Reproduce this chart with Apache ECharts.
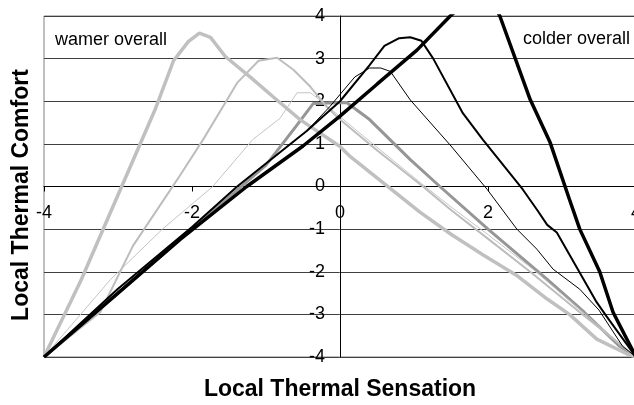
<!DOCTYPE html>
<html>
<head>
<meta charset="utf-8">
<script src="https://cdn.jsdelivr.net/npm/echarts@6/dist/echarts.min.js"></script>
<style>
html,body{margin:0;padding:0;background:#fff;}
#chart{width:634px;height:405px;}
</style>
</head>
<body>
<div id="chart"></div>
<script>
// Local thermal sensation (x) vs local thermal comfort (y)
const xTicks = [-4, -2, 0, 2, 4];
const yTicks = [-4, -3, -2, -1, 0, 1, 2, 3, 4];

// warmer-overall curves (grey)
const warmThick = [[-4,-4],[-3.5,-2.2],[-3.0,-0.2],[-2.5,1.8],[-2.25,2.95],[-2.05,3.4],[-1.9,3.6],[-1.75,3.5],[-1.55,3.05],[-1.2,2.55],[-0.9,2.1],[-0.54,1.57],[0,0.94],[0.14,0.7],[0.5,0.2],[1.08,-0.6],[1.5,-1.12],[1.93,-1.6],[2.4,-2.1],[2.8,-2.64],[3.1,-3.0],[3.47,-3.58],[3.88,-3.93],[4,-4]];
const warmMedium = [[-4,-4],[-3.24,-2.95],[-2.8,-1.4],[-2.2,0.16],[-1.85,1.1],[-1.39,2.43],[-1.1,2.95],[-0.85,3.02],[-0.63,2.74],[-0.4,2.34],[-0.18,1.87],[0,1.57],[0.5,0.85],[1.12,0.0],[1.5,-0.55],[1.98,-1.2],[2.57,-2.0],[3.24,-2.95],[3.6,-3.45],[4,-4]];
const warmThin = [[-4,-4],[-3.1,-2.18],[-2.4,-1.0],[-1.72,0],[-1.18,1.1],[-0.81,1.6],[-0.58,2.2],[-0.4,2.2],[-0.23,1.97],[0.2,1.35],[0.5,0.92],[1.1,0.07],[1.5,-0.48],[2,-1.13],[2.6,-1.93],[3.25,-2.9],[4,-4]];
const neutral = [[-4,-4],[-3,-2.5],[-2,-1.0],[-1,0.5],[-0.6,1.4],[-0.36,1.95],[0.09,1.97],[0.4,1.57],[0.95,0.63],[1.35,0],[2,-1.0],[2.8,-2.18],[3.3,-2.95],[3.78,-3.75],[4,-4]];

// colder-overall curves (black)
const coldThin = [[-4,-4],[-3,-2.4],[-2,-0.95],[-1.39,0],[-0.45,1.3],[-0.14,1.87],[0.2,2.57],[0.4,2.78],[0.55,2.78],[0.68,2.7],[0.95,2.03],[1.5,0.95],[1.99,-0.07],[2.39,-1.0],[2.66,-1.47],[2.88,-1.94],[3.24,-2.41],[3.5,-2.9],[3.82,-3.75],[4,-4]];
const coldMedium = [[-4,-4],[-3,-2.4],[-2,-0.95],[-1.39,0],[-0.45,1.3],[0,2.0],[0.4,2.85],[0.6,3.3],[0.8,3.48],[0.95,3.5],[1.1,3.42],[1.26,3.0],[1.66,1.72],[1.93,1.1],[2.47,-0.07],[2.66,-0.54],[2.8,-0.9],[2.93,-1.08],[3.2,-1.9],[3.47,-2.72],[3.6,-3.04],[4,-4]];
const coldThick = [[-4,-4],[-3,-2.5],[-2.16,-1.24],[-1.26,0],[-0.5,0.95],[0,1.65],[0.5,2.4],[1.04,3.2],[1.49,4.0],[1.95,4.7],[2.16,4.0],[2.57,2.04],[2.84,1.03],[3.1,-0.3],[3.24,-1.0],[3.51,-2.0],[3.69,-2.95],[4,-4]];

const FONT = '"Liberation Sans", Arial, sans-serif';
const GRID = { left: 44, top: 16, width: 592, height: 341 };

function line(data, color, width, z) {
  return {
    type: 'line', data: data, showSymbol: false, symbol: 'none',
    lineStyle: { color: color, width: width }, z: z, clip: true,
    animation: false, emphasis: { disabled: true }
  };
}

const chart = echarts.init(document.getElementById('chart'), null, { renderer: 'canvas' });
chart.setOption({
  animation: false,
  backgroundColor: '#fff',
  grid: Object.assign({ show: true, borderColor: '#808080', borderWidth: 1, outerBoundsMode: 'none', containLabel: false }, GRID),
  xAxis: {
    type: 'value', position: 'bottom', min: xTicks[0], max: xTicks[xTicks.length - 1], interval: 2,
    offset: -GRID.height / 2,
    axisLine: { onZero: false, lineStyle: { color: '#000', width: 1 } },
    axisTick: { show: true, length: 5, lineStyle: { color: '#000' } },
    axisLabel: { fontSize: 18, color: '#000', margin: 18, fontFamily: FONT, showMinLabel: true, showMaxLabel: true },
    splitLine: { show: false }
  },
  yAxis: {
    type: 'value', position: 'left', min: yTicks[0], max: yTicks[yTicks.length - 1], interval: 1,
    offset: -GRID.width / 2,
    axisLine: { onZero: false, lineStyle: { color: '#000', width: 1 } },
    axisTick: { show: false },
    axisLabel: { fontSize: 18, color: '#000', margin: 15, fontFamily: FONT },
    splitLine: { show: true, lineStyle: { color: '#404040', width: 1 } }
  },
  series: [
    line(neutral, '#969696', 3, 2),
    line(warmThin, '#c4c4c4', 1, 3),
    line(warmMedium, '#bdbdbd', 2, 3),
    line(warmThick, '#c0c0c0', 3.5, 3),
    line(coldThin, '#000', 1, 4),
    line(coldMedium, '#000', 2, 4),
    line(coldThick, '#000', 3.5, 4)
  ],
  graphic: [
    { type: 'text', x: 55, y: 40, z: 10, style: { text: 'wamer overall', font: '18px ' + FONT, fill: '#000', textAlign: 'left', textVerticalAlign: 'middle' } },
    { type: 'text', x: 630, y: 39, z: 10, style: { text: 'colder overall', font: '18px ' + FONT, fill: '#000', textAlign: 'right', textVerticalAlign: 'middle' } },
    { type: 'text', x: 340, y: 390, z: 10, style: { text: 'Local Thermal Sensation', font: 'bold 23px ' + FONT, fill: '#000', textAlign: 'center', textVerticalAlign: 'middle' } },
    { type: 'text', x: 22, y: 195, rotation: Math.PI / 2, z: 10, style: { text: 'Local Thermal Comfort', font: 'bold 23px ' + FONT, fill: '#000', textAlign: 'center', textVerticalAlign: 'middle' } }
  ]
});
</script>
</body>
</html>
